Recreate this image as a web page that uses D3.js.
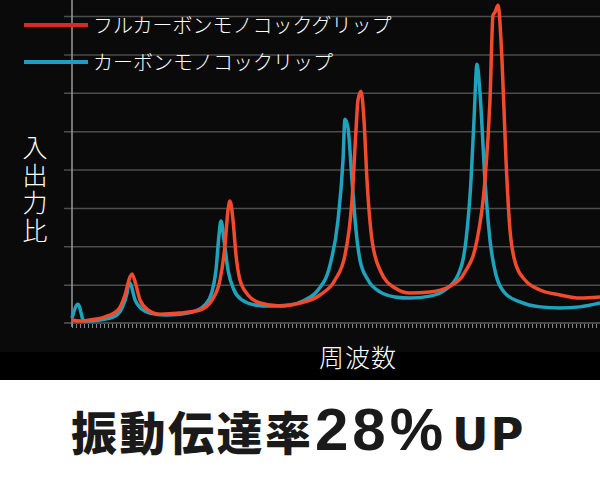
<!DOCTYPE html>
<html><head><meta charset="utf-8">
<script src="https://cdn.jsdelivr.net/npm/d3@7"></script>
<style>
html,body{margin:0;padding:0;background:#fff;}
svg{display:block;}
</style></head>
<body>
<svg id="c" width="600" height="480"></svg>
<script>
// Data (frequency in arbitrary units, input/output ratio)
const seriesNames = ["フルカーボンモノコックグリップ", "カーボンモノコックリップ"];
const fullFreq = [0,8,18,33,46,53,58,60,64,68,76,88,108,128,140,148,153,156,158,161,164,168,176,188,208,228,248,263,273,280,284,286,289,292,295,300,308,323,338,358,378,393,405,413,418,421,423,426,430,434,438,444,453,468,488,508,528];
const fullVal  = [0.08,0.05,0.08,0.16,0.34,0.73,1.20,1.28,0.99,0.60,0.34,0.23,0.26,0.34,0.60,1.12,2.03,2.94,3.18,2.68,1.77,1.12,0.73,0.52,0.44,0.52,0.73,1.12,1.77,3.20,5.03,5.81,6.04,5.29,3.72,2.16,1.38,0.91,0.78,0.81,0.96,1.33,2.16,3.72,5.81,8.02,8.10,8.28,6.85,4.24,2.42,1.51,1.12,0.86,0.73,0.65,0.68];
const partFreq = [0,6,12,28,43,50,55,57,59,63,70,78,93,108,123,133,140,144,147,149,152,156,162,170,183,198,218,233,246,258,266,271,273,276,280,284,288,296,308,323,338,358,373,386,394,399,402,405,408,413,418,424,433,448,468,488,508,528];
const partVal  = [0.13,0.49,0.05,0.08,0.18,0.39,0.78,1.07,0.99,0.60,0.36,0.26,0.21,0.23,0.31,0.47,0.81,1.38,2.29,2.66,2.16,1.38,0.86,0.60,0.47,0.44,0.47,0.60,0.86,1.51,2.68,4.24,5.31,5.08,3.72,2.42,1.64,1.12,0.81,0.68,0.65,0.70,0.86,1.25,2.16,3.72,5.29,6.74,5.99,3.72,2.16,1.25,0.78,0.55,0.42,0.39,0.42,0.52];
const gridValues = [1,2,3,4,5,6,7,8];
const xLabel = "周波数";
const yLabel = "入出力比";
const titleKanji = "振動伝達率";
const titleNum = "28%";
const titleUnit = "UP";

const svg = d3.select("#c");
const W = 600;
const mLeft = 72, mRight = 600, mBottom = 323, mTop = 16;

// backgrounds
svg.append("rect").attr("x",0).attr("y",0).attr("width",W).attr("height",352).attr("fill","#0b0a0a");
svg.append("rect").attr("x",0).attr("y",352).attr("width",W).attr("height",28).attr("fill","#000");
svg.append("rect").attr("x",0).attr("y",380).attr("width",W).attr("height",100).attr("fill","#fff");

const x = d3.scaleLinear().domain([0,528]).range([mLeft,mRight]);
const y = d3.scaleLinear().domain([0,8]).range([mBottom,mTop]);

// gridlines
const gy = svg.append("g").attr("transform",`translate(${mLeft},0)`)
  .call(d3.axisLeft(y).tickValues(gridValues).tickSize(0).tickFormat(""));
gy.select(".domain").remove();
gy.selectAll(".tick line").attr("stroke","#4d4d4d").attr("stroke-width",1.5)
  .attr("x1",-8).attr("x2",mRight-mLeft);

// x axis with minor ticks
const gx = svg.append("g").attr("transform",`translate(0,${mBottom})`)
  .call(d3.axisBottom(x).tickValues(d3.range(0,529,4)).tickSize(5).tickFormat(""));
gx.select(".domain").attr("stroke","#5a5a5a").attr("stroke-width",1.5).attr("d",`M${mLeft-8},0H${mRight}`);
gx.selectAll(".tick line").attr("stroke","#8a8a8a").attr("stroke-width",1).attr("y1",1);

// y axis vertical line
svg.append("line").attr("x1",mLeft).attr("x2",mLeft).attr("y1",0).attr("y2",mBottom+4)
  .attr("stroke","#9a9a9a").attr("stroke-width",1.5);

const line = d3.line().x(d=>x(d[0])).y(d=>y(d[1])).curve(d3.curveMonotoneX);
const partData = partFreq.map((f,i)=>[f,partVal[i]]);
const fullData = fullFreq.map((f,i)=>[f,fullVal[i]]);
svg.append("path").datum(partData).attr("d",line).attr("fill","none")
  .attr("stroke","#1fa3bd").attr("stroke-width",3.5).attr("stroke-linejoin","round");
svg.append("path").datum(fullData).attr("d",line).attr("fill","none")
  .attr("stroke","#f24a2c").attr("stroke-width",3.5).attr("stroke-linejoin","round");

// legend
const legColors = ["#d8282a","#1b9fbd"];
const legY = [25, 62];
seriesNames.forEach((n,i)=>{
  svg.append("line").attr("x1",24).attr("x2",88).attr("y1",legY[i]).attr("y2",legY[i])
    .attr("stroke",legColors[i]).attr("stroke-width",4);
  svg.append("text").attr("x",93).attr("y",legY[i]+8).text(n)
    .attr("fill","#fff").attr("font-family","'Noto Sans CJK JP'").attr("font-weight",300)
    .attr("font-size",20);
});

// y label vertical
svg.append("text").attr("x",35).attr("y",135).text(yLabel)
  .style("writing-mode","vertical-rl").style("text-orientation","upright")
  .attr("letter-spacing",2.5)
  .attr("fill","#fff").attr("font-family","'Noto Sans CJK JP'").attr("font-weight",300)
  .attr("font-size",25);

// x label
svg.append("text").attr("x",358).attr("y",367).attr("text-anchor","middle").text(xLabel)
  .attr("fill","#fff").attr("font-family","'Noto Sans CJK JP'").attr("font-weight",300)
  .attr("font-size",25).attr("letter-spacing",1);

// title
svg.append("text").attr("x",71).attr("y",450).text(titleKanji).attr("fill","#1a1a1a")
  .attr("font-family","'Noto Sans CJK JP'").attr("font-weight",900).attr("font-size",46)
  .attr("textLength",240).attr("lengthAdjust","spacing");
svg.append("text").attr("x",315).attr("y",450).text(titleNum).attr("fill","#1a1a1a")
  .attr("font-family","'Liberation Sans'").attr("font-weight",700).attr("font-size",60)
  .attr("letter-spacing",4);
svg.append("text").attr("x",452).attr("y",450).text(titleUnit).attr("fill","#1a1a1a")
  .attr("font-family","'DejaVu Sans'").attr("font-weight",700).attr("font-size",45)
  .attr("letter-spacing",2);
</script>
</body></html>
